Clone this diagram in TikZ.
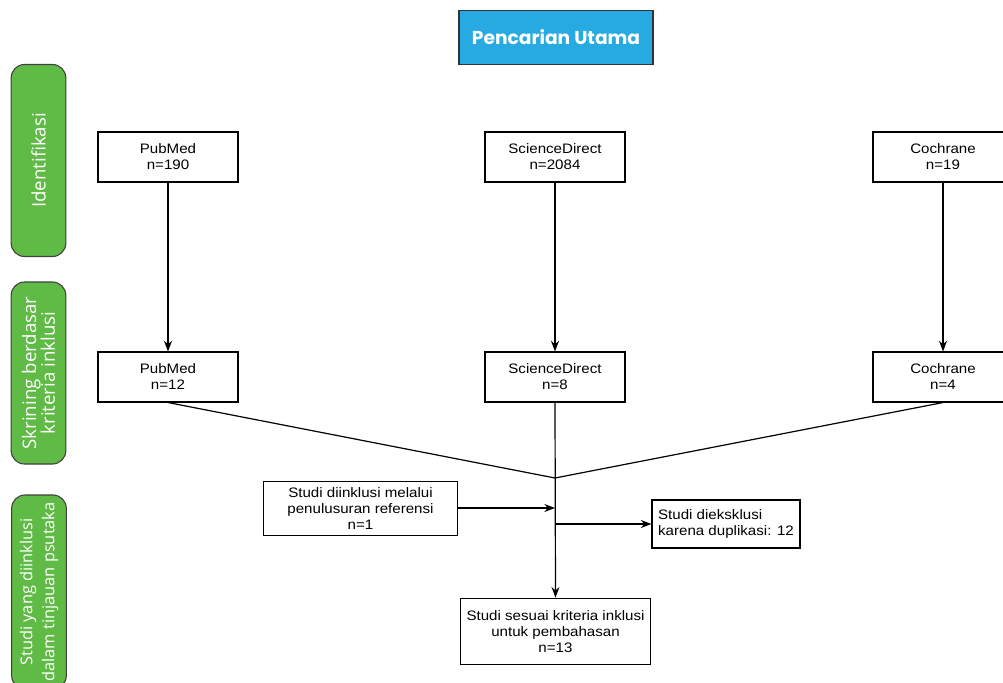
\documentclass[tikz,border=0pt]{standalone}
\usepackage{fontspec}
\setmainfont{Liberation Sans}
\newfontfamily\boxfont[FakeStretch=1.1]{Liberation Sans}
\newfontfamily\popfont{Poppins}
\newfontfamily\opfont{Open Sans}
\usetikzlibrary{arrows.meta}
\definecolor{sidegreen}{RGB}{96,186,70}
\definecolor{topblue}{RGB}{39,170,225}
\begin{document}
\begin{tikzpicture}[x=0.75pt,y=-0.75pt,
  box/.style={draw=black, line width=0.8pt, minimum width=105pt, minimum height=37.5pt, align=center, font=\boxfont\fontsize{10.3}{12}\selectfont, inner sep=2pt},
  side/.style={draw=black!75, fill=sidegreen, rounded corners=10pt, line width=0.8pt, text=white, font=\opfont\fontsize{14}{14}\selectfont, rotate=90, align=center, minimum height=41pt, inner xsep=1pt},
  conn/.style={line width=0.9pt},
  arr/.style={conn, -{Stealth[length=8pt,width=6pt]}}]
\clip (0,0) rectangle (1003,682);
\fill[white] (0,0) rectangle (1003,682);

% top
\node[draw=black!80, fill=topblue, line width=0.9pt, minimum width=145.5pt, minimum height=40pt, text=white, font=\popfont\bfseries\fontsize{14}{16}\selectfont] (top) at (556,37.5) {Pencarian Utama};

% side labels
\node[side, minimum width=144pt] (s1) at (38.5,160.5) {Identifikasi};
\node[side, minimum width=136.5pt] (s2) at (38.5,373) {Skrining berdasar\\kriteria inklusi};
\node[side, minimum width=145.5pt, font=\opfont\fontsize{12.3}{16.5}\selectfont] (s3) at (39,592) {Studi yang diinklusi\\dalam tinjauan psutaka};

% row 1
\node[box] (p1) at (168,157) {PubMed\\n=190};
\node[box] (d1) at (555,157) {ScienceDirect\\n=2084};
\node[box] (c1) at (943,157) {Cochrane\\n=19};
% row 2
\node[box] (p2) at (168,377) {PubMed\\n=12};
\node[box] (d2) at (555,377) {ScienceDirect\\n=8};
\node[box] (c2) at (943,377) {Cochrane\\n=4};

\draw[arr] (p1) -- (p2);
\draw[arr] (d1) -- (d2);
\draw[arr] (c1) -- (c2);

\coordinate (m) at (555,478);
\coordinate (mref) at (555,508);
\coordinate (mexc) at (555,524);

\node[box, minimum width=146pt, minimum height=40pt] (ref) at (360.5,508.5) {Studi diinklusi melalui\\penulusuran referensi\\n=1};
\node[box, minimum width=111pt, minimum height=36pt, align=left, inner sep=3pt] (exc) at (726,524) {Studi dieksklusi\\karena duplikasi: 12};
\node[box, minimum width=142pt, minimum height=50pt] (fin) at (555.5,631.5) {Studi sesuai kriteria inklusi\\untuk pembahasan\\n=13};

\draw[conn] (p2.south) -- (m);
\draw[conn] (c2.south) -- (m);
\draw[arr] (d2.south) -- (fin.north);
\draw[arr] (ref.east |- mref) -- (mref);
\draw[arr] (mexc) -- (exc.west |- mexc);
\end{tikzpicture}
\end{document}
